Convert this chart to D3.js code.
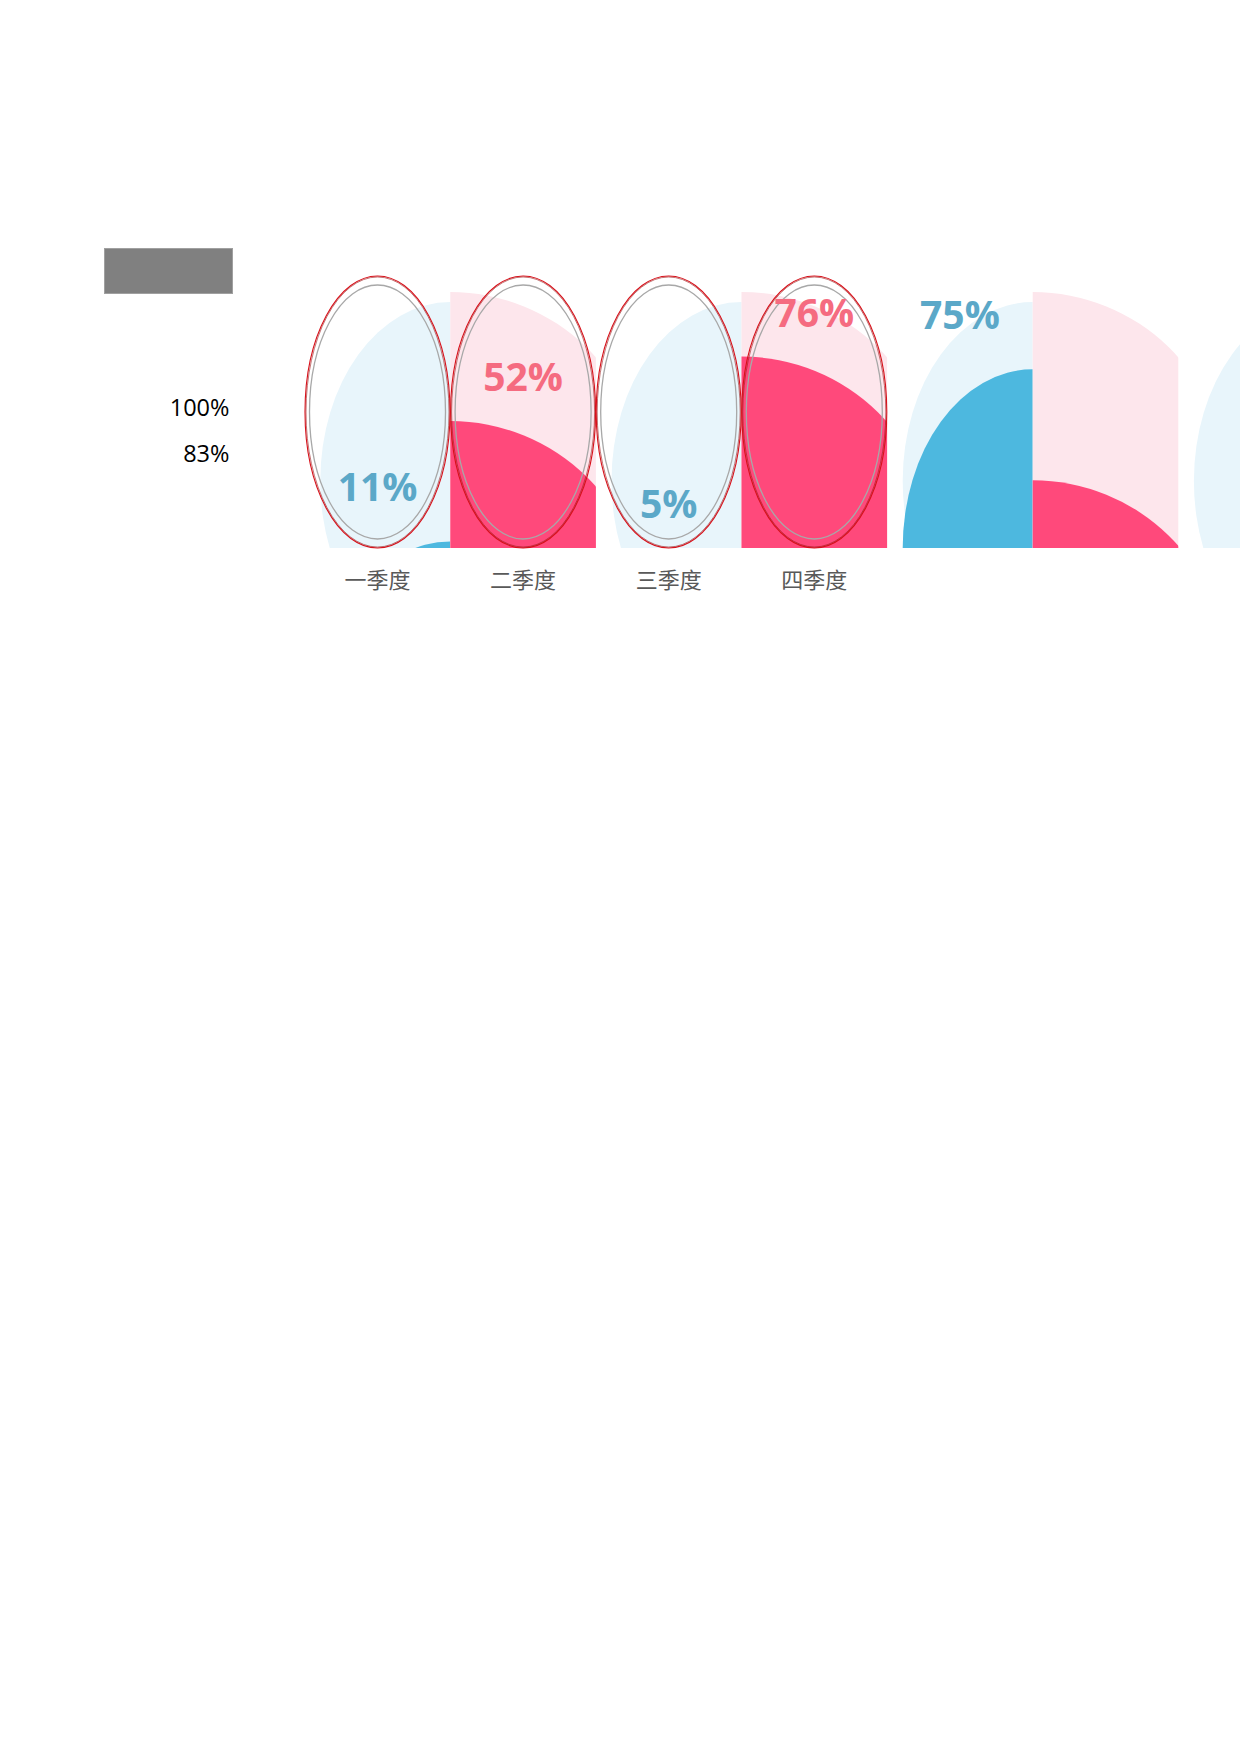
<!DOCTYPE html>
<html>
<head>
<meta charset="utf-8">
<script src="https://cdn.jsdelivr.net/npm/d3@7"></script>
<style>
  body { margin: 0; background: #fff; }
  svg { display: block; }
</style>
</head>
<body>
<svg class="chart" width="1240" height="1754"></svg>
<script>
// quarters shown under the first four bands, the rest of the bands are unlabeled
const quarters = ["一季度", "二季度", "三季度", "四季度"];
const values = [0.11, 0.52, 0.05, 0.76, 0.75, 0.3, 0.15];
const sides = ["blue", "pink", "blue", "pink", "blue", "pink", "blue"];
const valueLabels = ["11%", "52%", "5%", "76%", "75%", "", ""];
const axisTicks = [1, 0.83];

const colors = {
  blue: { light: "#e8f5fb", dark: "#4db8df", text: "#5ba8c8" },
  pink: { light: "#fde6ec", dark: "#ff497b", text: "#f56b80" }
};

const svg = d3.select("svg.chart");
const bottom = 548;

const x = d3
  .scaleBand()
  .domain(d3.range(values.length))
  .range([304.7, 304.7 + values.length * 145.6])
  .padding(0);
const bw = x.bandwidth();

// vertical position of each shape's centre, driven by the value
const y = d3.scaleLinear().domain([0, 1]).range([750, 481]);
const yAxis = d3.scaleLinear().domain([0, 1]).range([677, 408]);

const shape = {
  blue: { rx: 130, ry: 179, cx: (i) => x(i) + bw },
  pink: { rx: 192.5, ry: 189, cx: (i) => x(i) }
};

// gray block at the top left
svg
  .append("rect")
  .attr("x", 104.5)
  .attr("y", 248.5)
  .attr("width", 128)
  .attr("height", 45)
  .attr("fill", "#808080")
  .attr("stroke", "#a0a0a0")
  .attr("stroke-width", 1);

const defs = svg.append("defs");
defs
  .selectAll("clipPath")
  .data(values)
  .enter()
  .append("clipPath")
  .attr("id", (d, i) => "band" + i)
  .append("rect")
  .attr("x", (d, i) => x(i))
  .attr("y", 0)
  .attr("width", bw)
  .attr("height", bottom);

const bands = svg
  .selectAll("g.band")
  .data(values)
  .enter()
  .append("g")
  .attr("class", "band")
  .attr("clip-path", (d, i) => `url(#band${i})`);

bands
  .append("ellipse")
  .attr("cx", (d, i) => shape[sides[i]].cx(i))
  .attr("cy", y(1))
  .attr("rx", (d, i) => shape[sides[i]].rx)
  .attr("ry", (d, i) => shape[sides[i]].ry)
  .attr("fill", (d, i) => colors[sides[i]].light);

bands
  .append("ellipse")
  .attr("cx", (d, i) => shape[sides[i]].cx(i))
  .attr("cy", (d) => y(d))
  .attr("rx", (d, i) => shape[sides[i]].rx)
  .attr("ry", (d, i) => shape[sides[i]].ry)
  .attr("fill", (d, i) => colors[sides[i]].dark);

// outlined rings over the four quarters
const rings = svg
  .selectAll("g.ring")
  .data(quarters)
  .enter()
  .append("g")
  .attr("class", "ring")
  .attr("transform", (d, i) => `translate(${x(i) + bw / 2},412)`);

rings
  .append("ellipse")
  .attr("rx", 72.5)
  .attr("ry", 136)
  .attr("fill", "none")
  .attr("stroke", "#d8101a")
  .attr("stroke-width", 1.1);

rings
  .append("ellipse")
  .attr("rx", 71.5)
  .attr("ry", 135)
  .attr("fill", "none")
  .attr("stroke", "#9e1a1a")
  .attr("stroke-width", 0.6);

rings
  .append("ellipse")
  .attr("rx", 68)
  .attr("ry", 127)
  .attr("fill", "none")
  .attr("stroke", "#a8a8a8")
  .attr("stroke-width", 1.3);

svg
  .selectAll("text.value")
  .data(values)
  .enter()
  .append("text")
  .attr("class", "value")
  .attr("x", (d, i) => x(i) + bw / 2)
  .attr("y", (d) => y(d) - 219)
  .attr("text-anchor", "middle")
  .attr("font-family", "'Open Sans', sans-serif")
  .attr("font-weight", "bold")
  .attr("font-size", 39)
  .attr("fill", (d, i) => colors[sides[i]].text)
  .text((d, i) => valueLabels[i]);

svg
  .selectAll("text.quarter")
  .data(quarters)
  .enter()
  .append("text")
  .attr("class", "quarter")
  .attr("x", (d, i) => x(i) + bw / 2)
  .attr("y", 580)
  .attr("dy", "0.35em")
  .attr("text-anchor", "middle")
  .attr("font-family", "'Noto Sans CJK SC', sans-serif")
  .attr("font-size", 22)
  .attr("fill", "#595959")
  .text((d) => d);

const axis = svg
  .append("g")
  .attr("transform", "translate(229.5,0)")
  .call(
    d3
      .axisLeft(yAxis)
      .tickValues(axisTicks)
      .tickSize(0)
      .tickPadding(0)
      .tickFormat(d3.format(".0%"))
  );
axis.select(".domain").remove();
axis
  .selectAll("text")
  .attr("font-family", "'Open Sans', sans-serif")
  .attr("font-size", 23.5)
  .attr("fill", "#000");
</script>
</body>
</html>
